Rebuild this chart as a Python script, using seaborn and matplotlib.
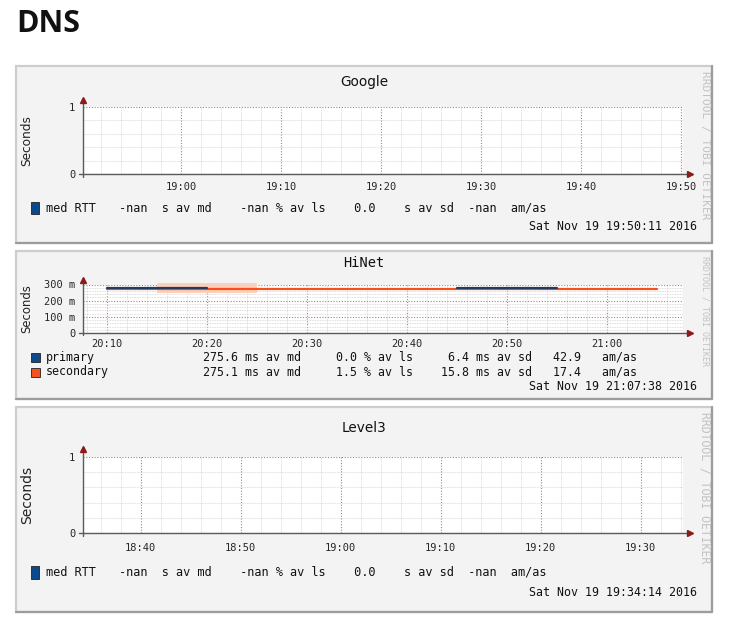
import numpy as np
import pandas as pd
import seaborn as sns
import matplotlib.pyplot as plt
import matplotlib.dates as mdates
from matplotlib.patches import Rectangle
from matplotlib.ticker import MultipleLocator, FuncFormatter

sns.set_style("white")
plt.rcParams["font.family"] = ["DejaVu Sans"]

W, H = 740, 629

# ---- values ----
panel_names = ["Google", "HiNet", "Level3"]
panel_stamps = ["2016-11-19 19:50:11", "2016-11-19 21:07:38", "2016-11-19 19:34:14"]
day = "2016-11-19 "

# HiNet median RTT (seconds), drawn as flat step segments
primary_start = ["20:10", "20:45"]
primary_end = ["20:20", "20:55"]
primary_rtt = [0.2756, 0.2756]
secondary_start = ["20:10"]
secondary_end = ["21:05"]
secondary_rtt = [0.2751]
# smoke (ping spread) band
smoke_start = ["20:15"]
smoke_end = ["20:25"]
smoke_low = [0.245]
smoke_high = [0.312]

# legend statistics
hinet_series = ["primary", "secondary"]
hinet_md = [275.6, 275.1]
hinet_ls = [0.0, 1.5]
hinet_sd = [6.4, 15.8]
hinet_amas = [42.9, 17.4]
single_series = "med RTT"
single_stats = ["-nan", "-nan", "0.0", "-nan"]  # md, ls, sd, am/as

# ---- colours ----
c_primary = "#0d4a8c"
c_primary_line = "#243a5e"
c_secondary = "#f4511e"
c_smoke = "#fad0bd"
c_axis = "#5a5a5a"
c_arrow = "#8b1a1a"
mono = "DejaVu Sans Mono"


def fx(x):
    return x / W


def fy(y):
    return 1 - y / H


def box(l, t, r, b):
    return [l / W, 1 - b / H, (r - l) / W, (b - t) / H]


fig = plt.figure(figsize=(W / 100, H / 100), dpi=100)
fig.patch.set_facecolor("white")

fig.text(fx(16), fy(31.5), "DNS", fontfamily=["Open Sans", "Roboto", "DejaVu Sans"],
         fontweight="bold", fontsize=22, va="baseline", ha="left", color="#111111")

# pixel layout of the three panels
layout = [
    dict(frame=(16, 66, 712, 243), plot=(83, 107, 683, 174), title_y=82,
         rows=[208], stamp_y=226, ylab=8.7, rrd=8.0, xpad=3.0, sq=(8, 12), leg=8.55),
    dict(frame=(16, 251, 712, 399), plot=(83, 284.5, 683, 333), title_y=263,
         rows=[357, 372], stamp_y=387, ylab=8.4, rrd=6.0, xpad=1.5, sq=(9, 9), leg=8.4),
    dict(frame=(16, 407, 712, 612), plot=(83, 457, 683, 533), title_y=428,
         rows=[572], stamp_y=592, ylab=10.0, rrd=8.3, xpad=4.5, sq=(8, 13), leg=8.55),
]


def draw_frame(l, t, r, b):
    fig.add_artist(Rectangle((fx(l), fy(b)), (r - l) / W, (b - t) / H,
                             transform=fig.transFigure, facecolor="#f3f3f3",
                             edgecolor="#cdcdcd", linewidth=1.6, zorder=-2))
    fig.add_artist(plt.Line2D([fx(l), fx(r), fx(r)], [fy(b), fy(b), fy(t)],
                              transform=fig.transFigure, color="#9c9c9c",
                              linewidth=1.6, zorder=-1))


def style_axes(ax, end, ymax, ymaj, ymin, fmt, xpad):
    ax.set_facecolor("white")
    ax.set_xlim(end - pd.Timedelta(minutes=60), end)
    ax.set_ylim(0, ymax)
    ax.xaxis.set_major_locator(mdates.MinuteLocator(byminute=range(0, 60, 10)))
    ax.xaxis.set_minor_locator(mdates.MinuteLocator(
        byminute=[m for m in range(0, 60, 2) if m % 10]))
    ax.xaxis.set_major_formatter(mdates.DateFormatter("%H:%M"))
    ax.yaxis.set_major_locator(MultipleLocator(ymaj))
    ax.yaxis.set_minor_locator(MultipleLocator(ymin))
    ax.yaxis.set_major_formatter(FuncFormatter(fmt))
    ax.set_axisbelow(True)
    ax.grid(which="minor", color="#d4d4d4", linestyle=(0, (1, 1)), linewidth=0.6)
    ax.grid(which="major", color="#e46a6a", linestyle=(0, (1, 1.5)), linewidth=0.8)
    for s in ax.spines.values():
        s.set_visible(False)
    ax.tick_params(which="both", direction="out", color="#808080", width=0.8)
    ax.tick_params(which="major", length=3)
    ax.tick_params(which="minor", length=2)
    ax.tick_params(axis="x", which="major", pad=xpad, labelsize=7.5)
    ax.tick_params(axis="y", which="major", pad=2.5, labelsize=7.5)
    for lab in ax.get_xticklabels() + ax.get_yticklabels():
        lab.set_fontfamily(mono)
    ax.set_xlabel("")
    ax.set_ylabel("")
    # axis lines with small arrow heads, as rrdtool draws them
    ax.plot([-0.006, 1.01], [0, 0], transform=ax.transAxes, color=c_axis,
            lw=1.0, clip_on=False, zorder=5)
    ax.plot([0, 0], [-0.04, 1.09], transform=ax.transAxes, color=c_axis,
            lw=1.0, clip_on=False, zorder=5)
    ax.plot([1.012], [0], marker=">", ms=4, color=c_arrow, transform=ax.transAxes,
            clip_on=False, zorder=6)
    ax.plot([0], [1.1], marker="^", ms=4, color=c_arrow, transform=ax.transAxes,
            clip_on=False, zorder=6)


def fmt_plain(v, pos):
    return f"{v:.0f}"


def fmt_milli(v, pos):
    return "0" if abs(v) < 1e-9 else f"{v * 1000:.0f} m"


for i, name in enumerate(panel_names):
    lay = layout[i]
    draw_frame(*lay["frame"])
    ax = fig.add_axes(box(*lay["plot"]))
    end = pd.Timestamp(panel_stamps[i])

    if name == "HiNet":
        rows = []
        segs = [("primary", primary_start, primary_end, primary_rtt),
                ("secondary", secondary_start, secondary_end, secondary_rtt)]
        for series, starts, ends, vals in segs:
            for k, (s, e, v) in enumerate(zip(starts, ends, vals)):
                rows.append((pd.Timestamp(day + s), v, series, f"{series}{k}"))
                rows.append((pd.Timestamp(day + e), v, series, f"{series}{k}"))
        hinet_df = pd.DataFrame(rows, columns=["time", "rtt", "series", "seg"])
        for s, e, lo, hi in zip(smoke_start, smoke_end, smoke_low, smoke_high):
            ax.fill_between([pd.Timestamp(day + s), pd.Timestamp(day + e)],
                            [lo, lo], [hi, hi], color=c_smoke, lw=0,
                            zorder=1, clip_on=False)
        sns.lineplot(data=hinet_df, x="time", y="rtt", hue="series", units="seg",
                     estimator=None, sort=False, hue_order=["secondary", "primary"],
                     palette={"primary": c_primary_line, "secondary": c_secondary},
                     linewidth=1.6, legend=False, ax=ax, zorder=3)
        style_axes(ax, end, 0.3, 0.1, 0.02, fmt_milli, lay["xpad"])
    else:
        style_axes(ax, end, 1.0, 1.0, 0.2, fmt_plain, lay["xpad"])

    l, t, r, b = lay["plot"]
    fl, ft, fr, fb = lay["frame"]
    title_font = mono if name == "HiNet" else "DejaVu Sans"
    fig.text(fx((l + r) / 2 - 19), fy(lay["title_y"]), name, ha="center",
             va="center", fontsize=9.8, fontfamily=title_font, color="#111111")
    fig.text(fx(27), fy((t + b) / 2), "Seconds", rotation=90, ha="center",
             va="center", fontsize=lay["ylab"], color="#222222")
    fig.text(fx(705), fy(ft + 5), "RRDTOOL / TOBI OETIKER", rotation=270,
             ha="center", va="top", fontsize=lay["rrd"], fontfamily=mono,
             color="#c2c2c2")

    # legend rows
    sw, sh = lay["sq"]
    if name == "HiNet":
        names = hinet_series
        colors = [c_primary, c_secondary]
        stats = [f"{md:5.1f} ms av md     {ls:3.1f} % av ls{sd:8.1f} ms av sd   "
                 f"{am:4.1f}   am/as"
                 for md, ls, sd, am in zip(hinet_md, hinet_ls, hinet_sd, hinet_amas)]
        stat_x = 203
    else:
        md, ls, sd, am = single_stats
        names = [single_series]
        colors = [c_primary]
        stats = [f"{md:>4}  s av md    {ls:>4} % av ls    {sd:>3}    s av sd  "
                 f"{am:>4}  am/as"]
        stat_x = 119
    for ry, nm, col, st in zip(lay["rows"], names, colors, stats):
        fig.add_artist(Rectangle((fx(31), fy(ry + sh / 2)), sw / W, sh / H,
                                 transform=fig.transFigure, facecolor=col,
                                 edgecolor="#222222", linewidth=0.6))
        fig.text(fx(46), fy(ry), nm, ha="left", va="center", fontsize=lay["leg"],
                 fontfamily=mono, color="#111111")
        fig.text(fx(stat_x), fy(ry), st, ha="left", va="center", fontsize=lay["leg"],
                 fontfamily=mono, color="#111111")
    fig.text(fx(697), fy(lay["stamp_y"]), end.strftime("%a %b %d %H:%M:%S %Y"),
             ha="right", va="center", fontsize=8.4, fontfamily=mono,
             color="#111111")

fig.savefig("out.png", dpi=100)
